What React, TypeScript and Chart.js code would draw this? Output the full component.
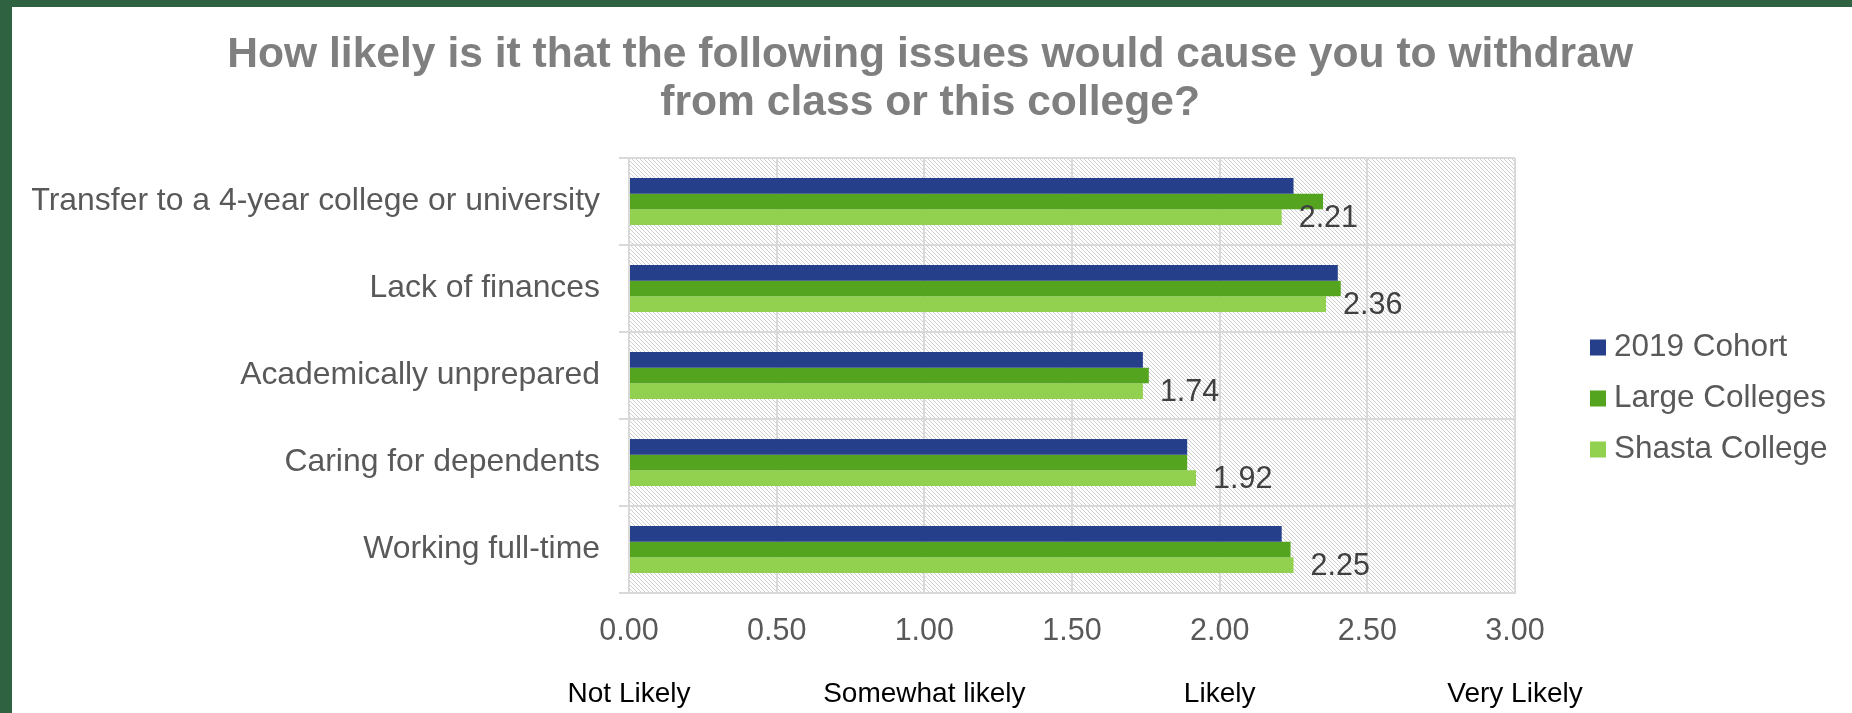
import { useEffect, useRef } from 'react';
import { Chart, registerables } from 'chart.js';

Chart.register(...registerables);

const FONT = "'Liberation Sans', Arial, sans-serif";

const TITLE_LINES = [
  'How likely is it that the following issues would cause you to withdraw',
  'from class or this college?',
];
const CATEGORIES = [
  'Transfer to a 4-year college or university',
  'Lack of finances',
  'Academically unprepared',
  'Caring for dependents',
  'Working full-time',
];
const SERIES_NAMES = ['2019 Cohort', 'Large Colleges', 'Shasta College'];
const COHORT_2019 = [2.25, 2.4, 1.74, 1.89, 2.21];
const LARGE_COLLEGES = [2.35, 2.41, 1.76, 1.89, 2.24];
const SHASTA_COLLEGE = [2.21, 2.36, 1.74, 1.92, 2.25];
const SERIES_COLORS = ['#253F8A', '#54A41F', '#92D050'];
const LIKERT_LABELS = ['Not Likely', 'Somewhat likely', 'Likely', 'Very Likely'];
const AXIS_MIN = 0;
const AXIS_MAX = 3;
const AXIS_STEP = 0.5;

export default function App() {
  const ref = useRef<HTMLCanvasElement>(null);

  useEffect(() => {
    document.body.style.margin = '0';
    Chart.defaults.font.family = FONT;
    const canvas = ref.current!;

    const tile = document.createElement('canvas');
    tile.width = 4;
    tile.height = 4;
    const tctx = tile.getContext('2d')!;
    tctx.fillStyle = '#ffffff';
    tctx.fillRect(0, 0, 4, 4);
    tctx.fillStyle = '#cfcfcf';
    for (let i = 0; i < 4; i++) tctx.fillRect(i, i, 1, 1);
    const pattern = canvas.getContext('2d')!.createPattern(tile, 'repeat');

    const bgPlugin = {
      id: 'bgHatch',
      beforeDraw(chart: any) {
        const c = chart.ctx;
        const a = chart.chartArea;
        c.save();
        c.fillStyle = '#ffffff';
        c.fillRect(0, 0, chart.width, chart.height);
        c.fillStyle = pattern;
        c.fillRect(a.left, a.top, a.right - a.left, a.bottom - a.top);
        c.restore();
      },
    };

    const valueLabelPlugin = {
      id: 'valueLabels',
      afterDatasetsDraw(chart: any) {
        const meta = chart.getDatasetMeta(2);
        const c = chart.ctx;
        c.save();
        c.font = `30.5px ${FONT}`;
        c.fillStyle = '#404040';
        c.textAlign = 'left';
        c.textBaseline = 'middle';
        meta.data.forEach((el: any, i: number) => {
          c.fillText(SHASTA_COLLEGE[i].toFixed(2), el.x + 17, el.y + 1);
        });
        c.restore();
      },
    };

    const seriesData = [COHORT_2019, LARGE_COLLEGES, SHASTA_COLLEGE];

    const chart = new Chart(canvas, {
      type: 'bar',
      data: {
        labels: CATEGORIES,
        datasets: seriesData.map((d, i) => ({
          label: SERIES_NAMES[i],
          data: d,
          backgroundColor: SERIES_COLORS[i],
          borderWidth: 0,
          categoryPercentage: 0.54,
          barPercentage: 1,
          xAxisID: 'x',
          yAxisID: 'y',
        })),
      },
      options: {
        indexAxis: 'y',
        responsive: false,
        animation: false,
        devicePixelRatio: 1,
        layout: { padding: { left: 20, right: 23.75, top: 0, bottom: 0 } },
        scales: {
          x: {
            type: 'linear',
            position: 'bottom',
            weight: 0,
            min: AXIS_MIN,
            max: AXIS_MAX,
            ticks: {
              stepSize: AXIS_STEP,
              autoSkip: false,
              maxRotation: 0,
              minRotation: 0,
              padding: 20.5,
              color: '#595959',
              font: { size: 30.5 },
              callback: (v: any) => Number(v).toFixed(2),
            },
            grid: { color: '#D9D9D9', lineWidth: 2, drawTicks: false },
            border: { color: '#D9D9D9', width: 2 },
            afterFit: (s: any) => {
              s.height = 57;
            },
          },
          x2: {
            type: 'linear',
            axis: 'x',
            position: 'bottom',
            weight: 1,
            min: AXIS_MIN,
            max: AXIS_MAX,
            ticks: {
              stepSize: 1,
              autoSkip: false,
              maxRotation: 0,
              minRotation: 0,
              padding: 27,
              color: '#000000',
              font: { size: 28 },
              callback: (v: any) => LIKERT_LABELS[Math.round(Number(v))],
            },
            grid: { display: false, drawTicks: false },
            border: { display: false },
            afterFit: (s: any) => {
              s.height = 63;
            },
          },
          y: {
            type: 'category',
            position: 'left',
            ticks: {
              padding: 19,
              color: '#595959',
              font: { size: 31.9 },
              autoSkip: false,
            },
            grid: { color: '#D9D9D9', lineWidth: 2, tickLength: 10, offset: true },
            border: { color: '#D9D9D9', width: 2 },
            afterFit: (s: any) => {
              s.width = 597;
            },
          },
          legendGap: {
            type: 'linear',
            axis: 'y',
            position: 'right',
            display: true,
            ticks: { display: false },
            grid: { display: false, drawTicks: false },
            border: { display: false },
            afterFit: (s: any) => {
              s.width = 63.25;
            },
          },
        },
        plugins: {
          title: {
            display: true,
            text: TITLE_LINES,
            color: '#7F7F7F',
            font: { size: 42.6, weight: 'bold', lineHeight: 48 / 42.6 },
            padding: { top: 24.5, bottom: 30.5 },
          },
          legend: {
            position: 'right',
            fullSize: false,
            maxWidth: 250,
            align: 'center',
            title: { display: true, text: ' ', padding: 0, font: { size: 46, lineHeight: 1 } },
            labels: {
              usePointStyle: true,
              pointStyle: 'rect',
              boxWidth: 0.5,
              boxHeight: 16,
              padding: 19.5,
              color: '#595959',
              font: { size: 31.5 },
            },
          },
          tooltip: { enabled: false },
        },
      } as any,
      plugins: [bgPlugin, valueLabelPlugin],
    });

    return () => chart.destroy();
  }, []);

  return (
    <div
      style={{
        width: 1852,
        height: 713,
        background: '#2E6240',
        paddingLeft: 12,
        paddingTop: 7,
        boxSizing: 'border-box',
        overflow: 'hidden',
      }}
    >
      <canvas ref={ref} width={1840} height={706} style={{ display: 'block', width: 1840, height: 706 }} />
    </div>
  );
}
